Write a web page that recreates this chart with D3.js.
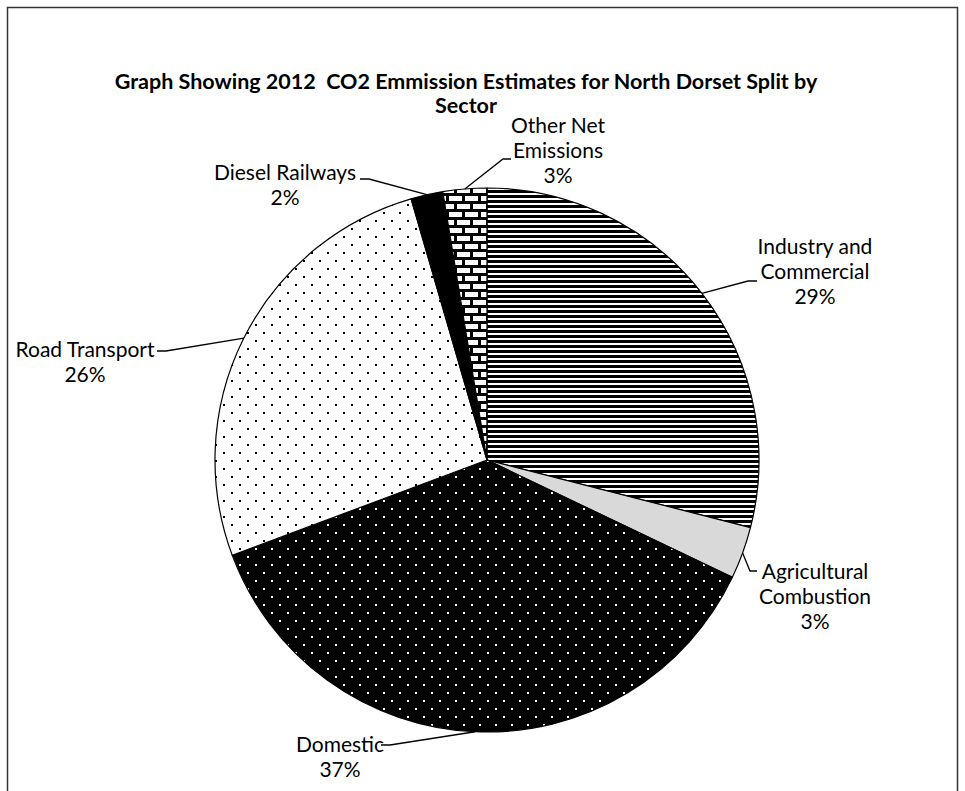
<!DOCTYPE html>
<html><head><meta charset="utf-8">
<script src="https://cdn.jsdelivr.net/npm/d3@7"></script>
<style>html,body{margin:0;padding:0;background:#fff;} svg{display:block;}</style>
</head><body>
<script>
// ---- data ----
const categories = ["Industry and Commercial", "Agricultural Combustion", "Domestic", "Road Transport", "Diesel Railways", "Other Net Emissions"];
const values = [29.0, 3.1, 37.2, 26.2, 1.9, 2.6];
const labelLines = [["Industry and", "Commercial"], ["Agricultural", "Combustion"], ["Domestic"], ["Road Transport"], ["Diesel Railways"], ["Other Net", "Emissions"]];
const titleLines = ["Graph Showing 2012  CO2 Emmission Estimates for North Dorset Split by", "Sector"];

// ---- style / layout ----
const W = 965, H = 791;
const cx = 487, cy = 460, R = 272;
const fills = ["url(#pStripes)", "#d9d9d9", "url(#pDotsInv)", "url(#pDots)", "#000", "url(#pBricks)"];
// label placement: center x, first baseline, leader attach point and elbow
const labelLayout = [
  {x: 815, y: 254, ax: 757, ay: 281, ex: 748, ey: 281},
  {x: 815, y: 579, ax: 757, ay: 571, ex: 750, ey: 571},
  {x: 340, y: 752, ax: 381, ay: 745, ex: 390, ey: 745},
  {x: 85,  y: 357, ax: 157, ay: 351, ex: 166, ey: 351},
  {x: 285, y: 180, ax: 360, ay: 179, ex: 369, ey: 179},
  {x: 558, y: 133, ax: 511, ay: 159, ex: 503, ey: 159}
];
const lineH = 25;
const font = "Lato, 'Open Sans', sans-serif";

const svg = d3.select("body").append("svg").attr("width", W).attr("height", H);
const defs = svg.append("defs");

// horizontal stripes
const pS = defs.append("pattern").attr("id", "pStripes").attr("patternUnits", "userSpaceOnUse").attr("width", 8).attr("height", 5);
pS.append("rect").attr("width", 8).attr("height", 5).attr("fill", "#fff");
pS.append("rect").attr("width", 8).attr("height", 3).attr("fill", "#000");

function dotPattern(id, bg, fg) {
  const p = defs.append("pattern").attr("id", id).attr("patternUnits", "userSpaceOnUse").attr("width", 16).attr("height", 16);
  p.append("rect").attr("width", 16).attr("height", 16).attr("fill", bg);
  p.append("rect").attr("x", 0).attr("y", 0).attr("width", 2).attr("height", 2).attr("fill", fg);
  p.append("rect").attr("x", 8).attr("y", 8).attr("width", 2).attr("height", 2).attr("fill", fg);
}
dotPattern("pDots", "#fff", "#000");
dotPattern("pDotsInv", "#000", "#fff");

// bricks
const pB = defs.append("pattern").attr("id", "pBricks").attr("patternUnits", "userSpaceOnUse").attr("width", 16).attr("height", 16);
pB.append("rect").attr("width", 16).attr("height", 16).attr("fill", "#000");
[[2, 0], [10, 8], [-6, 8]].forEach(([x, y]) => pB.append("rect").attr("x", x).attr("y", y).attr("width", 13).attr("height", 5).attr("fill", "#fff"));

// chart border
svg.append("rect").attr("x", 7.5).attr("y", 7.5).attr("width", 950).attr("height", 800)
  .attr("fill", "none").attr("stroke", "#333").attr("stroke-width", 1.5);

// title
svg.append("g").selectAll("text").data(titleLines).join("text")
  .attr("x", 466).attr("y", (d, i) => 89 + i * 24)
  .attr("text-anchor", "middle").style("white-space", "pre")
  .attr("font-family", font).attr("font-weight", "bold").attr("font-size", 21.5)
  .text(d => d);

// pie
const total = d3.sum(values);
const pie = d3.pie().sort(null).value(d => d)(values);
const arc = d3.arc().innerRadius(0).outerRadius(R);
const g = svg.append("g").attr("transform", `translate(${cx},${cy})`);
g.selectAll("path").data(pie).join("path")
  .attr("d", arc).attr("fill", (d, i) => fills[i])
  .attr("stroke", "#000").attr("stroke-width", 1.2).attr("stroke-linejoin", "round");

// leaders and labels
pie.forEach((d, i) => {
  const a = (d.startAngle + d.endAngle) / 2;
  const px = cx + R * Math.sin(a), py = cy - R * Math.cos(a);
  const L = labelLayout[i];
  svg.append("polyline")
    .attr("points", `${px},${py} ${L.ex},${L.ey} ${L.ax},${L.ay}`)
    .attr("fill", "none").attr("stroke", "#000").attr("stroke-width", 1.3);
  const lines = labelLines[i].concat([Math.round(d.value / total * 100) + "%"]);
  svg.append("g").selectAll("text").data(lines).join("text")
    .attr("x", L.x).attr("y", (t, j) => L.y + j * lineH)
    .attr("text-anchor", "middle").attr("font-family", font).attr("font-size", 21)
    .attr("fill", "#000").text(t => t);
});
</script>
</body></html>
